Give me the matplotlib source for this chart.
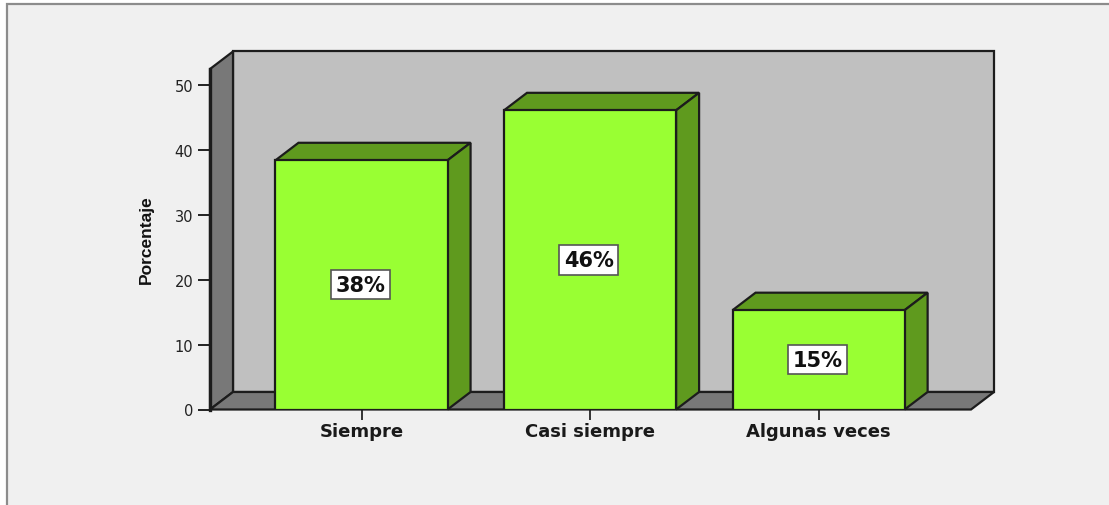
import matplotlib
matplotlib.use('Agg')
import matplotlib.pyplot as plt
from matplotlib.patches import Polygon, Rectangle

categories = ['Siempre', 'Casi siempre', 'Algunas veces']
values = [38.4, 46.1, 15.3]
labels = ['38%', '46%', '15%']
yticks = [0, 10, 20, 30, 40, 50]

W, H = 1109, 506
EDGE = '#1c1c1c'
BAR_W = 0.753
DX = 0.1007   # depth of the 3d effect, in data units
DY = 2.7


def poly(ax, pts, color, z, lw=1.6):
    ax.add_patch(Polygon(pts, closed=True, facecolor=color, edgecolor=EDGE,
                         lw=lw, zorder=z, clip_on=False, joinstyle='miter'))


fig = plt.figure(figsize=(W / 100, H / 100), dpi=100, facecolor='white')

# grey panel behind the chart
bg = fig.add_axes([0, 0, 1, 1])
bg.set_xlim(0, W)
bg.set_ylim(H, 0)
bg.axis('off')
bg.add_patch(Rectangle((7, 5), W, H, facecolor='#f0f0f0', edgecolor='#8c8c8c', lw=1.6))

ax = fig.add_axes([210 / W, 1 - 410.5 / H, 761 / W, 340.5 / H])
ax.patch.set_visible(False)
xmin, xmax = -0.663, 2.667
ymax = 52.47
ax.set_xlim(xmin, xmax)
ax.set_ylim(0, ymax)
for s in ax.spines.values():
    s.set_visible(False)

# walls and floor
poly(ax, [(xmin + DX, DY), (xmax + DX, DY), (xmax + DX, ymax + DY), (xmin + DX, ymax + DY)], '#c0c0c0', 1)
poly(ax, [(xmin, 0), (xmin + DX, DY), (xmin + DX, ymax + DY), (xmin, ymax)], '#787878', 2)
poly(ax, [(xmin, 0), (xmax, 0), (xmax + DX, DY), (xmin + DX, DY)], '#787878', 2)
ax.plot([xmin, xmin], [0, ymax], color=EDGE, lw=2.4, zorder=2.5, clip_on=False)

# bars
for i, v in enumerate(values):
    l = i - BAR_W / 2
    r = i + BAR_W / 2
    poly(ax, [(l, v), (r, v), (r + DX, v + DY), (l + DX, v + DY)], '#5f9a1e', 3)
    poly(ax, [(r, 0), (r + DX, DY), (r + DX, v + DY), (r, v)], '#5f9a1e', 3)
    ax.bar(i, v, BAR_W, color='#99ff33', edgecolor=EDGE, lw=1.6, zorder=4)
    ax.text(i - 0.005, v / 2, labels[i], ha='center', va='center', fontsize=15,
            fontweight='bold', family='DejaVu Sans', color='#111111', zorder=5,
            bbox=dict(boxstyle='square,pad=0.22', facecolor='white', edgecolor='#555555', lw=1.2))

ax.set_xticks(range(len(categories)))
ax.set_xticklabels(categories, fontsize=13, fontweight='bold', family='DejaVu Sans', color='#1a1a1a')
ax.set_yticks(yticks)
ax.set_yticklabels(yticks, fontsize=10.5, family='DejaVu Sans', color='#222222')
ax.tick_params(axis='x', length=7, width=1.4, color='#333333', pad=2)
ax.tick_params(axis='y', length=9, width=1.4, color='#222222', pad=3)
ax.set_ylabel('Porcentaje', fontsize=12.5, fontweight='bold', family='Liberation Sans', color='#111111')
ax.yaxis.set_label_coords((154 - 210) / 761, (410.5 - 240) / 340.5)

fig.savefig('out.png', dpi=100, facecolor=fig.get_facecolor())
